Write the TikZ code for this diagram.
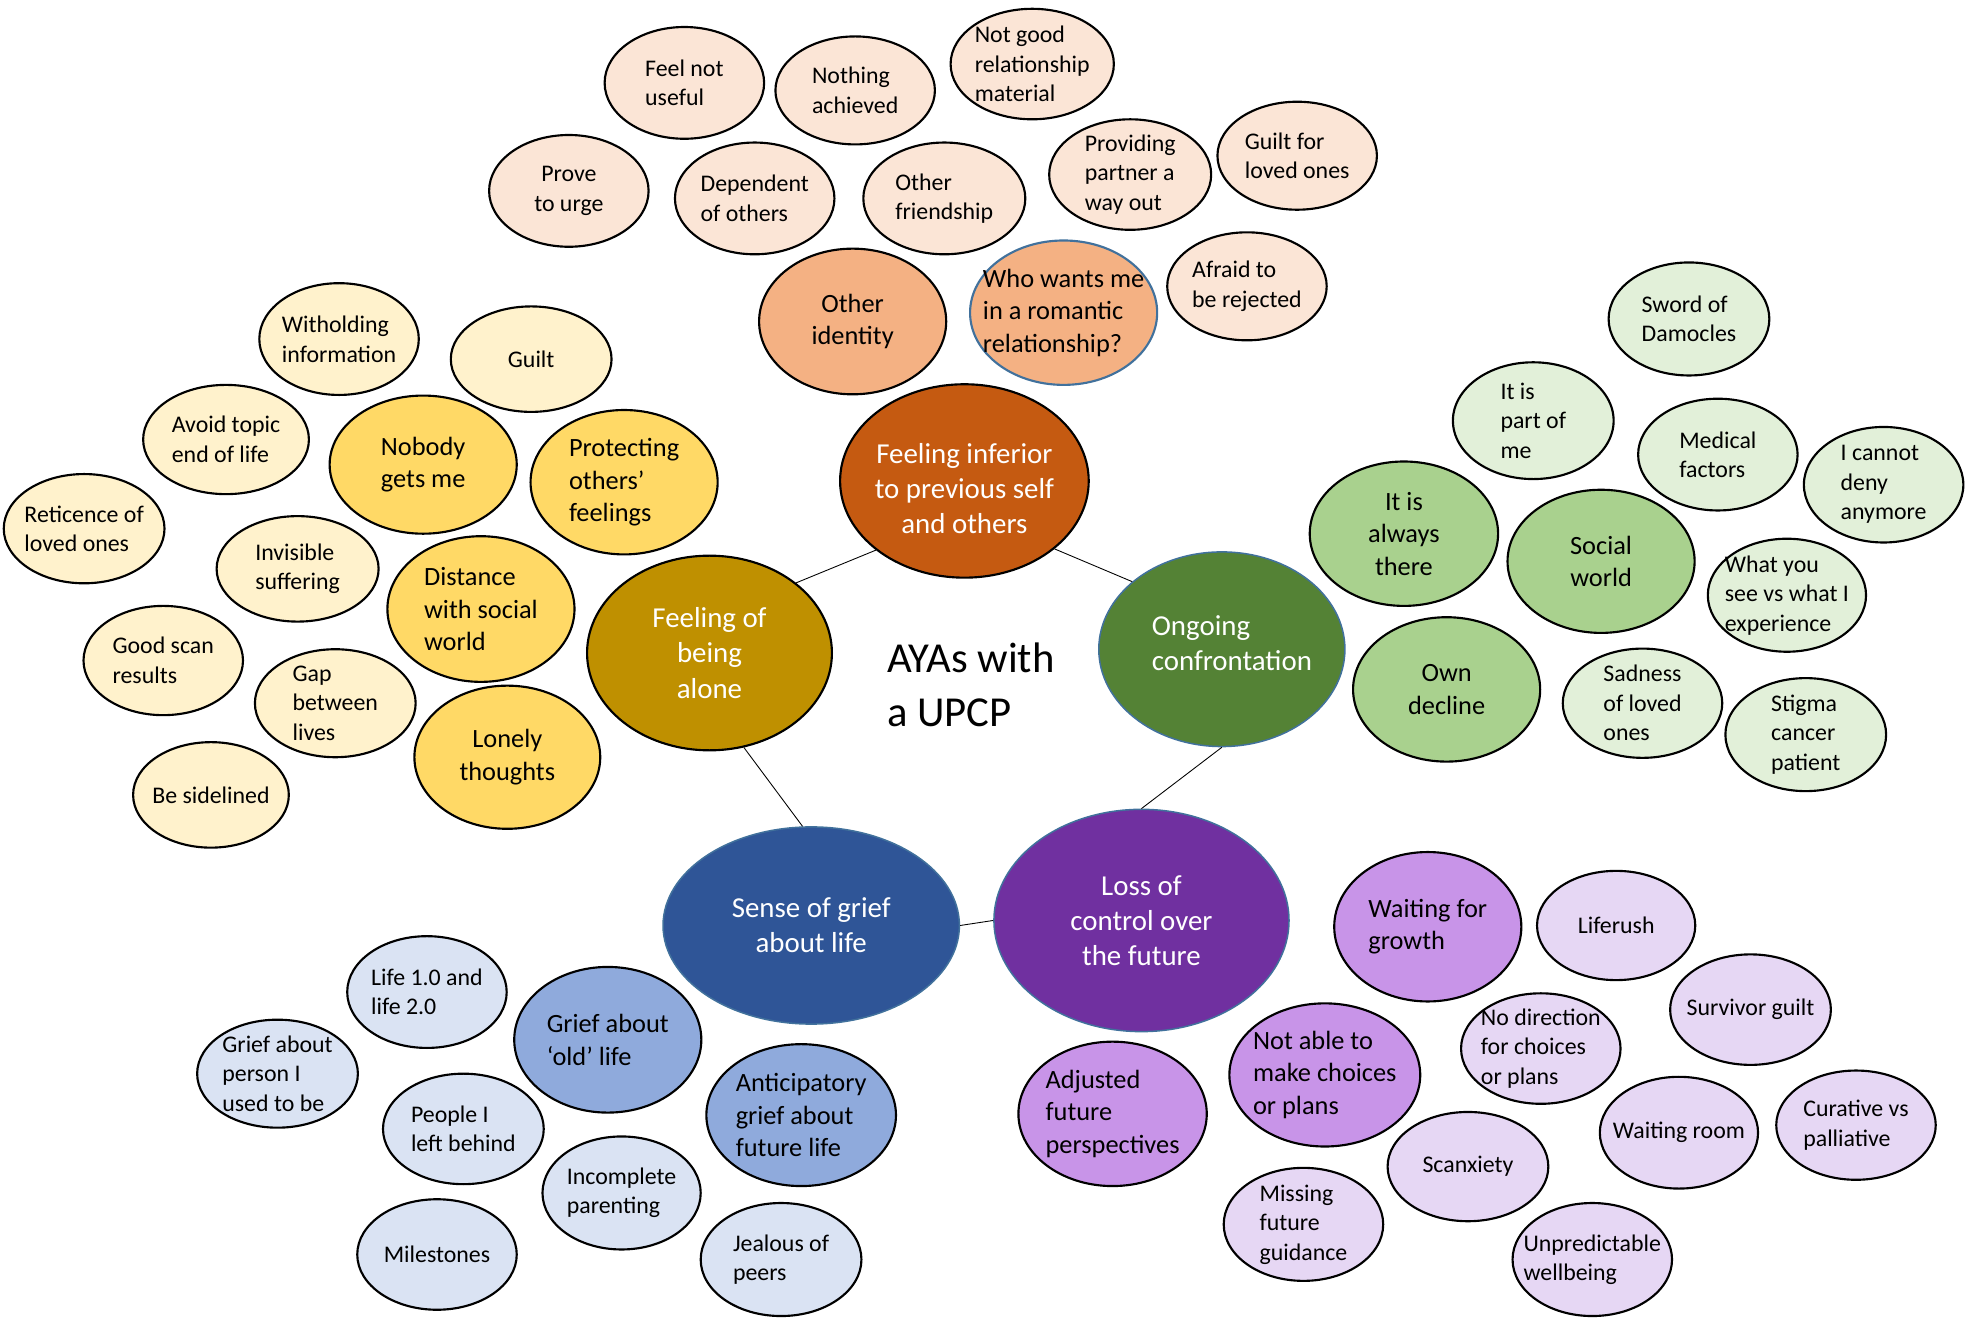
\documentclass[tikz,border=0pt]{standalone}
\usepackage{fontspec}
\setmainfont{Carlito}
\usetikzlibrary{shapes.geometric}

\definecolor{peachL}{HTML}{FBE5D6}
\definecolor{peachM}{HTML}{F4B183}
\definecolor{peachD}{HTML}{C55A11}
\definecolor{yellowL}{HTML}{FFF2CC}
\definecolor{yellowM}{HTML}{FFD966}
\definecolor{yellowD}{HTML}{BF9000}
\definecolor{greenL}{HTML}{E2F0D9}
\definecolor{greenM}{HTML}{A9D18E}
\definecolor{greenD}{HTML}{548235}
\definecolor{blueL}{HTML}{DAE3F3}
\definecolor{blueM}{HTML}{8FAADC}
\definecolor{blueD}{HTML}{2F5597}
\definecolor{purpleL}{HTML}{E6D7F4}
\definecolor{purpleM}{HTML}{C894E8}
\definecolor{purpleD}{HTML}{7030A0}
\definecolor{rimblue}{HTML}{41719C}

\begin{document}
\begin{tikzpicture}[x=1pt, y=-1pt,
                    bubble/.style = {ellipse, draw=black, line width=1.7pt, inner sep=0pt},
                    leaf/.style = {bubble, fill=#1, minimum width=127pt, minimum height=89pt},
                    mid/.style = {bubble, fill=#1, minimum width=149pt, minimum height=115pt},
                    theme/.style = {bubble, fill=#1, text=white, align=center,
                                    font=\fontsize{23}{28}\selectfont},
                    themetxt/.style = {text=white, align=center, font=\fontsize{23}{28}\selectfont},
                    txt/.style = {align=left, font=\fontsize{19}{23.5}\selectfont},
                    ctxt/.style = {txt, align=center},
                    midtxt/.style = {align=left, font=\fontsize{21}{26}\selectfont},
                    cmidtxt/.style = {midtxt, align=center},
                    link/.style = {line width=0.7pt}]
                    \useasboundingbox (0,0) rectangle (1568,1053);

                    \node [leaf=peachL, label={[txt]center:{Feel not\\useful}}] (notuseful) at (545,66) {};
                    \node [leaf=peachL, minimum height=86pt, label={[txt]center:{Nothing\\achieved}}] (nothing) at (681,72) {};
                    \node [leaf=peachL, minimum width=130pt, minimum height=88pt, label={[txt]center:{Not good\\relationship\\material}}] (notgood) at (822,51) {};
                    \node [leaf=peachL, label={[ctxt]center:{Prove\\to urge}}] (prove) at (453,152) {};
                    \node [leaf=peachL, label={[txt]center:{Dependent\\of others}}] (dependent) at (601,158) {};
                    \node [leaf=peachL, minimum width=129pt, label={[txt]center:{Other\\friendship}}] (friendship) at (752,158) {};
                    \node [leaf=peachL, minimum width=129pt, minimum height=88pt, label={[txt]center:{Providing\\partner a\\way out}}] (providing) at (900,139) {};
                    \node [leaf=peachL, minimum height=86pt, label={[txt]center:{Guilt for\\loved ones}}] (guiltfor) at (1033,124) {};
                    \node [leaf=peachL, minimum height=86pt, label={[txt]center:{Afraid to\\be rejected}}] (afraid) at (993,228) {};
                    \node [mid=peachM, minimum height=116pt, label={[cmidtxt]center:{Other\\identity}}] (identity) at (679,256) {};
                    \node [mid=peachM, draw=rimblue, label={[midtxt]center:{Who wants me\\in a romantic\\relationship?}}] (romantic) at (847,249) {};
                    \node [theme=peachD, minimum width=198pt, minimum height=154pt,
                           label={[themetxt, yshift=-6pt]center:{Feeling inferior\\to previous self\\and others}}] (inferior) at (768,383) {};

                    \node [leaf=yellowL, label={[txt]center:{Witholding\\information}}] (witholding) at (270,270) {};
                    \node [leaf=yellowL, minimum width=128pt, minimum height=84pt, label={[ctxt]center:{Guilt}}] (guilt) at (423,286) {};
                    \node [leaf=yellowL, minimum width=132pt, minimum height=87pt, label={[txt]center:{Avoid topic\\end of life}}] (avoid) at (180,350) {};
                    \node [leaf=yellowL, minimum width=128pt, minimum height=87pt, label={[txt]center:{Reticence of\\loved ones}}] (reticence) at (67,421) {};
                    \node [leaf=yellowL, minimum width=129pt, minimum height=84pt, label={[txt]center:{Invisible\\suffering}}] (invisible) at (237,453) {};
                    \node [leaf=yellowL, minimum height=87pt, label={[txt]center:{Good scan\\results}}] (goodscan) at (130,526) {};
                    \node [leaf=yellowL, minimum width=128pt, minimum height=86pt, label={[txt]center:{Gap\\between\\lives}}] (gap) at (267,560) {};
                    \node [leaf=yellowL, minimum width=124pt, minimum height=84pt, label={[ctxt]center:{Be sidelined}}] (sidelined) at (168,633) {};
                    \node [mid=yellowM, minimum height=110pt, label={[cmidtxt]center:{Nobody\\gets me}}] (nobody) at (337,370) {};
                    \node [mid=yellowM, label={[midtxt]center:{Protecting\\others’\\feelings}}] (protecting) at (497,384) {};
                    \node [mid=yellowM, minimum height=116pt, label={[midtxt]center:{Distance\\with social\\world}}] (distance) at (383,485) {};
                    \node [mid=yellowM, minimum width=148pt, minimum height=114pt, label={[cmidtxt]center:{Lonely\\thoughts}}] (lonely) at (404,603) {};
                    \node [theme=yellowD, minimum width=195pt, minimum height=155pt] (alone) at (565,520) {Feeling of\\being\\alone};

                    \node [leaf=greenL, minimum width=128pt, minimum height=90pt, label={[txt]center:{Sword of\\Damocles}}] (sword) at (1345,254) {};
                    \node [leaf=greenL, minimum width=128pt, minimum height=93pt, label={[txt]center:{It is\\part of\\me}}] (partofme) at (1221,335) {};
                    \node [leaf=greenL, label={[txt]center:{Medical\\factors}}] (medical) at (1368,362) {};
                    \node [leaf=greenL, minimum height=92pt, label={[txt]center:{I cannot\\deny\\anymore}}] (cannotdeny) at (1500,386) {};
                    \node [leaf=greenL, minimum width=126pt, minimum height=90pt, label={[txt]center:{What you\\see vs what I\\experience}}] (whatyousee) at (1423,474) {};
                    \node [leaf=greenL, minimum height=87pt, label={[txt]center:{Sadness\\of loved\\ones}}] (sadness) at (1308,560) {};
                    \node [leaf=greenL, minimum width=128pt, minimum height=90pt, label={[txt]center:{Stigma\\cancer\\patient}}] (stigma) at (1438,585) {};
                    \node [mid=greenM, minimum width=150pt, label={[cmidtxt]center:{It is\\always\\there}}] (alwaysthere) at (1118,425) {};
                    \node [mid=greenM, minimum height=114pt, label={[cmidtxt]center:{Social\\world}}] (socialworld) at (1275,447) {};
                    \node [mid=greenM, label={[cmidtxt]center:{Own\\decline}}] (owndecline) at (1152,549) {};
                    \node [theme=greenD, draw=rimblue, line width=1.2pt, minimum width=196pt, minimum height=155pt,
                           label={[themetxt, align=left, xshift=8pt, yshift=5pt]center:{Ongoing\\confrontation}}] (ongoing) at (973,517) {};

                    \node [leaf=blueL, label={[txt]center:{Life 1.0 and\\life 2.0}}] (lifeone) at (340,790) {};
                    \node [leaf=blueL, minimum width=128pt, minimum height=86pt, label={[txt]center:{Grief about\\person I\\used to be}}] (person) at (221,855) {};
                    \node [leaf=blueL, minimum width=128pt, minimum height=88pt, label={[txt]center:{People I\\left behind}}] (people) at (369,899) {};
                    \node [leaf=blueL, minimum width=126pt, minimum height=90pt, label={[txt]center:{Incomplete\\parenting}}] (parenting) at (495,950) {};
                    \node [leaf=blueL, minimum height=88pt, label={[ctxt]center:{Milestones}}] (milestones) at (348,999) {};
                    \node [leaf=blueL, minimum width=128pt, minimum height=90pt, label={[txt]center:{Jealous of\\peers}}] (jealous) at (622,1003) {};
                    \node [mid=blueM, minimum height=116pt, label={[midtxt]center:{Grief about\\‘old’ life}}] (oldlife) at (484,828) {};
                    \node [mid=blueM, minimum width=151pt, minimum height=113pt, label={[midtxt]center:{Anticipatory\\grief about\\future life}}] (anticipatory) at (638,888) {};
                    \node [theme=blueD, draw=rimblue, line width=1.2pt, minimum width=236pt, minimum height=157pt] (grief) at (646,737) {Sense of grief\\about life};

                    \node [mid=purpleM, minimum height=119pt, label={[midtxt]center:{Waiting for\\growth}}] (waitgrowth) at (1137,738) {};
                    \node [leaf=purpleL, minimum width=126pt, minimum height=87pt, label={[ctxt]center:{Liferush}}] (liferush) at (1287,737) {};
                    \node [leaf=purpleL, minimum width=128pt, minimum height=88pt, label={[ctxt]center:{Survivor guilt}}] (survivor) at (1394,804) {};
                    \node [leaf=purpleL, minimum height=88pt, label={[txt]center:{No direction\\for choices\\or plans}}] (nodirection) at (1227,835) {};
                    \node [mid=purpleM, minimum width=152pt, minimum height=114pt, label={[midtxt]center:{Not able to\\make choices\\or plans}}] (notable) at (1055,856) {};
                    \node [mid=purpleM, minimum width=150pt, label={[midtxt]center:{Adjusted\\future\\perspectives}}] (adjusted) at (886,887) {};
                    \node [leaf=purpleL, minimum height=87pt, label={[txt]center:{Curative vs\\palliative}}] (curative) at (1478,896) {};
                    \node [leaf=purpleL, minimum width=126pt, label={[ctxt]center:{Waiting room}}] (waitroom) at (1337,902) {};
                    \node [leaf=purpleL, minimum width=128pt, minimum height=87pt, label={[ctxt]center:{Scanxiety}}] (scanxiety) at (1169,929) {};
                    \node [leaf=purpleL, minimum height=90pt, label={[txt]center:{Missing\\future\\guidance}}] (missing) at (1038,975) {};
                    \node [leaf=purpleL, minimum height=90pt, label={[txt]center:{Unpredictable\\wellbeing}}] (unpredictable) at (1268,1003) {};
                    \node [theme=purpleD, draw=rimblue, line width=1.2pt, minimum width=235pt, minimum height=177pt] (loss) at (909,733) {Loss of\\control over\\the future};

                    \node [anchor=west, align=left, font=\fontsize{34}{43}\selectfont] (centre) at (703,545) {AYAs with\\a UPCP};

                    \draw[link] (inferior.218) -- (alone.39);
                    \draw[link] (inferior.323) -- (ongoing.143);
                    \draw[link] (alone.290) -- (grief.95);
                    \draw[link] (ongoing.270) -- (loss.90);
                    \draw[link] (grief.0) -- (loss.180);
                \end{tikzpicture}
\end{document}
